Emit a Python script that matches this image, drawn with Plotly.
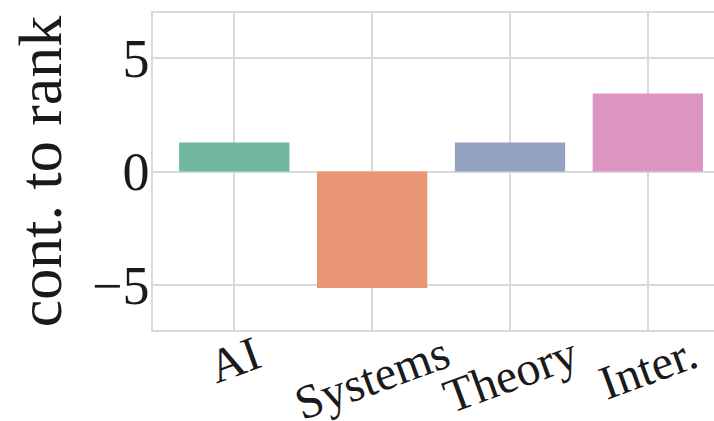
import plotly.graph_objects as go

categories = ["AI", "Systems", "Theory", "Inter."]
values = [1.28, -5.14, 1.28, 3.44]
colors = ["#71b7a0", "#e99675", "#95a3c3", "#db95c0"]
y_ticks = [-5, 0, 5]
y_title = "cont. to rank"

FONT = "Liberation Serif, Times New Roman, serif"

fig = go.Figure()
fig.add_trace(go.Bar(
    x=list(range(len(categories))),
    y=values,
    marker=dict(color=colors, line=dict(width=0)),
    width=0.8,
    showlegend=False,
    hoverinfo="skip",
))

plot_top, plot_bottom = 13, 330
H = 421
label_top_px = 323
label_y = (plot_bottom - label_top_px) / (plot_bottom - plot_top)

for i, c in enumerate(categories):
    fig.add_annotation(
        x=i, xref="x", y=label_y, yref="paper",
        text=c, showarrow=False, textangle=-20,
        xanchor="center", yanchor="top",
        font=dict(family=FONT, size=48, color="#1a1a1a"),
    )

fig.update_layout(
    width=714, height=H,
    margin=dict(l=153, r=0, t=plot_top, b=H - plot_bottom, pad=0, autoexpand=False),
    plot_bgcolor="white", paper_bgcolor="white",
    font=dict(family=FONT, color="#1a1a1a"),
    bargap=0.2,
)
fig.update_xaxes(
    range=[-0.59, 3.48],
    tickmode="array", tickvals=list(range(len(categories))),
    showticklabels=False,
    showgrid=True, gridcolor="#d9d9d9", gridwidth=1.5,
    showline=True, linecolor="#d9d9d9", linewidth=1.5, mirror=True,
    zeroline=False, ticks="", automargin=False,
)
fig.update_yaxes(
    range=[-7, 7],
    tickmode="array", tickvals=y_ticks,
    tickfont=dict(family=FONT, size=54, color="#1a1a1a"),
    ticklabelstandoff=-9,
    showgrid=True, gridcolor="#d9d9d9", gridwidth=1.5,
    showline=True, linecolor="#d9d9d9", linewidth=1.5,
    zeroline=False, ticks="", automargin=False,
    title=dict(text=y_title, font=dict(family=FONT, size=62, color="#1a1a1a"), standoff=10),
)

fig.write_html(
    "out.html",
    config={"displayModeBar": False},
    post_script="document.body.style.margin='0';document.body.style.overflow='hidden';",
)
